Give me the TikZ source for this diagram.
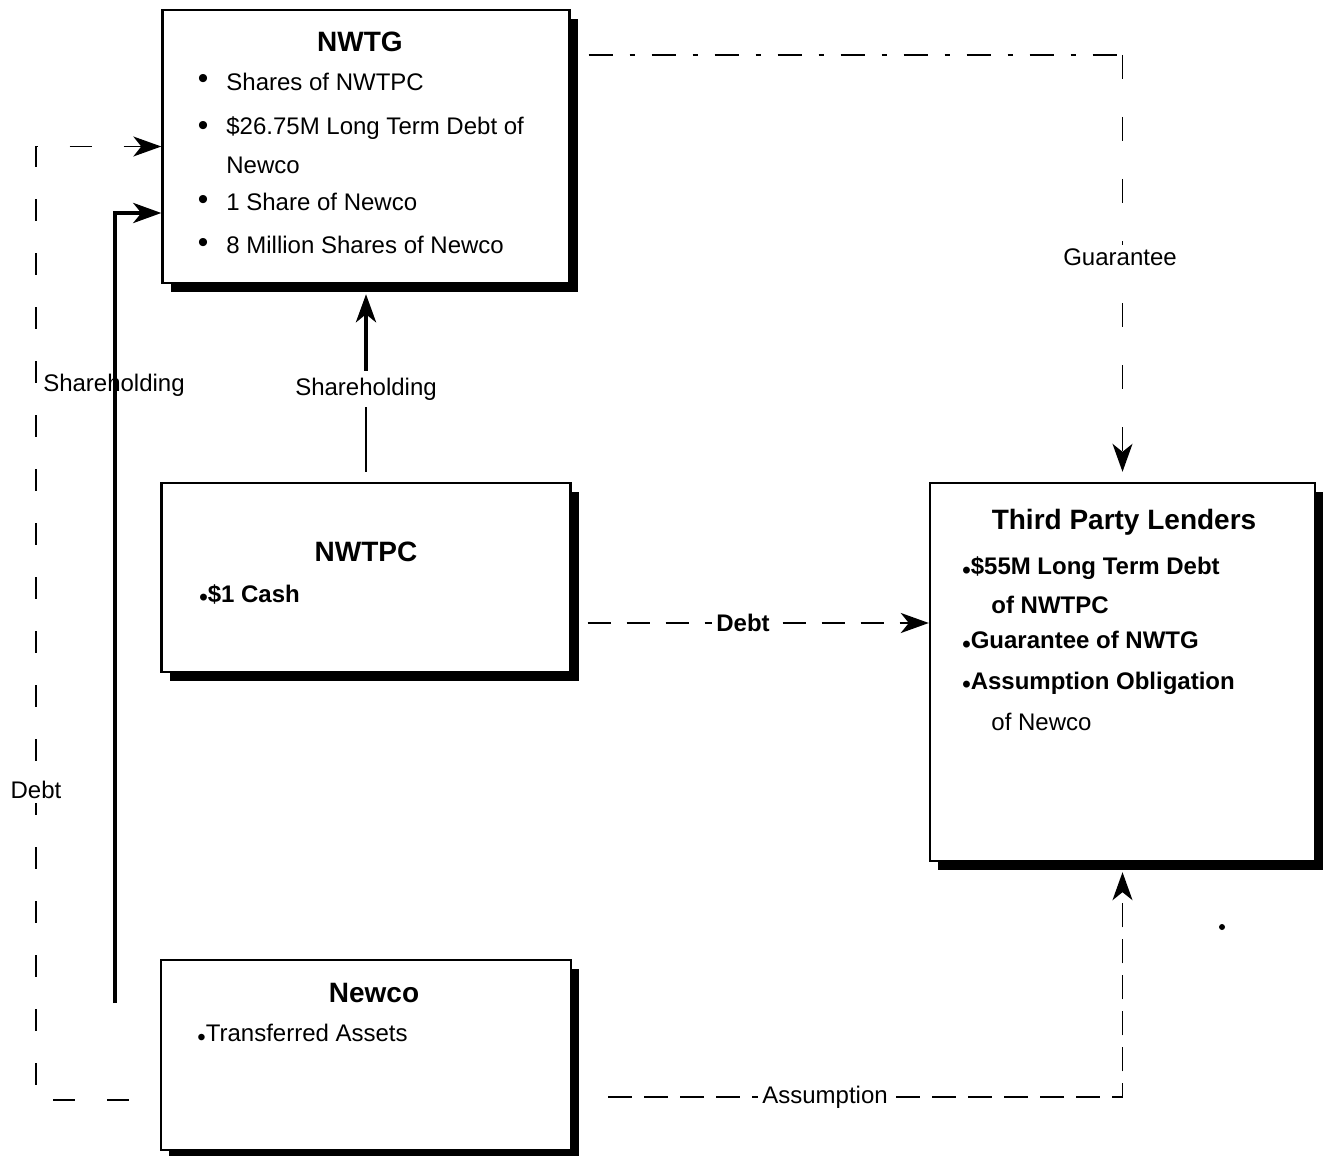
\documentclass[tikz,border=0pt]{standalone}
\usepackage{fontspec}
\setmainfont{Liberation Sans}
\usetikzlibrary{arrows.meta,shadows}
\tikzset{>={Stealth[length=14pt,width=10pt,inset=4pt]},every node/.style={font=\fontsize{12}{14}\selectfont},
box/.style={draw,line width=1.2pt,fill=white,inner sep=0pt,drop shadow={shadow xshift=4pt,shadow yshift=-4.5pt,fill=black,opacity=1}},
title/.style={font=\fontsize{14}{17}\selectfont\bfseries},
item/.style={anchor=west,inner sep=0pt},bitem/.style={item,font=\fontsize{12}{14}\selectfont\bfseries},
link/.style={line width=.8pt},heavy/.style={line width=2.2pt,->},
dashlink/.style={line width=.8pt,dash pattern=on 12pt off 6pt},
cut/.style={fill=white,inner sep=2pt}}
\newcommand{\lowbul}{\raisebox{-.3ex}{\textbullet}}

\begin{document}
\begin{tikzpicture}[x=.5pt,y=-.5pt]
\useasboundingbox (0,0) rectangle (1326,1155);
% boxes
\node[box,minimum width=203.5pt,minimum height=136.5pt] (nwtg) at (366,146.5) {};
\node[box,minimum width=204.5pt,minimum height=94.5pt] (nwtpc) at (366,577.5) {};
\node[box,minimum width=205pt,minimum height=95pt] (newco) at (366,1055) {};
\node[box,minimum width=192.5pt,minimum height=189pt] (lenders) at (1122.5,672) {};
% NWTG
\node[title] (nwtgT) at (360,42) {NWTG};
\foreach \n/\y/\t in {a/82/Shares of NWTPC,b/128/\$26.75M Long Term Debt of,c/202/1 Share of Newco,d/245/8 Million Shares of Newco}{
\node[item] (nwtg-\n) at (226,\y) {\t};\node[font=\fontsize{15}{15}\selectfont] (nwtgdot\n) at (203,\y) {\textbullet};}
\node[item] (nwtg-b2) at (226,165) {Newco};
% NWTPC
\node[title] (nwtpcT) at (366,552) {NWTPC};
\node[bitem] (cash) at (199,595) {\lowbul\$1 Cash};
% Newco
\node[title] (newcoT) at (374,993) {Newco};
\node[item] (assets) at (197,1035) {\lowbul Transferred Assets};
% lenders
\node[title] (lendersT) at (1124,522) {Third Party Lenders};
\node[bitem] (l1) at (962,568) {\lowbul\$55M Long Term Debt};
\node[bitem] (l1b) at (991,605) {of NWTPC};
\node[bitem] (l2) at (962,642) {\lowbul Guarantee of NWTG};
\node[bitem] (l3) at (962,683) {\lowbul Assumption Obligation};
\node[item] (l3b) at (991,722) {of Newco};
% shareholding NWTPC -> NWTG
\node (shmid) at (366,389) {Shareholding};
\draw[link,shorten <=5pt] (nwtpc.north) -- (shmid);
\draw[heavy] (shmid) -- ([yshift=-5pt]nwtg.south);
% shareholding Newco -> NWTG
\coordinate (shfoot) at (115,1003);
\draw[heavy] (shfoot) |- ([yshift=-33.25pt]nwtg.west);
\node (shleft) at (114,385) {Shareholding};
% debt Newco -> NWTG
\coordinate (dcorner) at (36,146.5);
\draw[link,dash pattern=on 11pt off 16pt,shorten <=15.5pt,->] ([yshift=-22.5pt]newco.west) -| (dcorner) -- (nwtg.west);
\node[cut] (dleft) at (36,790) {Debt};
% debt NWTPC -> lenders
\coordinate (dbt) at ([yshift=-22.75pt]nwtpc.east);
\draw[line width=1.3pt,dash pattern=on 11.5pt off 8pt,shorten <=8pt,->] (dbt) -- (dbt -| lenders.west);
\node[cut,font=\fontsize{12}{14}\selectfont\bfseries] (dmid) at (743,623) {Debt};
% guarantee
\coordinate (gstart) at ([yshift=45.75pt]nwtg.east);
\coordinate (gcorner) at (gstart -| lenders.north);
\draw[line width=1.4pt,dash pattern=on 12pt off 8.5pt on 2.5pt off 8.5pt,shorten <=9pt] (gstart) -- (gcorner);
\draw[link,dash pattern=on 12pt off 19pt,shorten >=5pt,->] (gcorner) -- (lenders.north);
\node[cut] (guar) at (1120,257) {Guarantee};
% assumption
\draw[dashlink,shorten <=18pt,->] ([yshift=-21pt]newco.east) -| ([yshift=-5pt]lenders.south);
\node[cut] (assum) at (825,1097) {Assumption};
\fill (1222,927) circle (1.5pt);
\end{tikzpicture}
\end{document}
